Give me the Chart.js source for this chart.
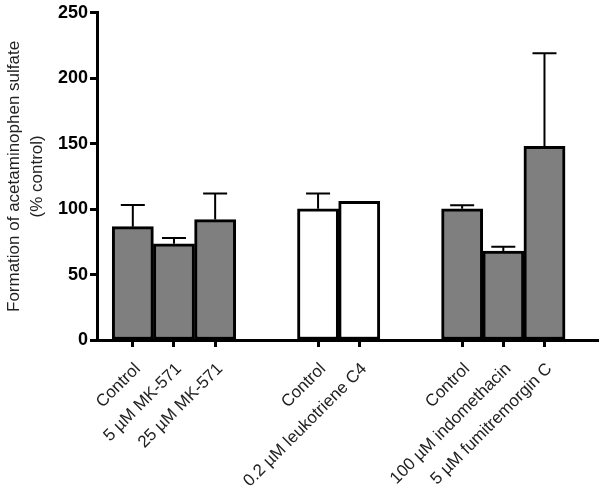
<!DOCTYPE html>
<html>
<head>
<meta charset="utf-8">
<script src="https://cdn.jsdelivr.net/npm/chart.js@4/dist/chart.umd.min.js"></script>
<style>
  html, body { margin: 0; padding: 0; background: #fff; }
  #wrap { width: 600px; height: 493px; }
</style>
</head>
<body>
<div id="wrap"><canvas id="mycanvas"></canvas></div>
<script>
// treatments, in the order they appear
var labels = ["Control", "5 µM MK-571", "25 µM MK-571",
              "Control", "0.2 µM leukotriene C4",
              "Control", "100 µM indomethacin", "5 µM fumitremorgin C"];
var groups = [0, 0, 0, 1, 1, 2, 2, 2];

// formation of acetaminophen sulfate, % control (mean and upper SD)
var means = [86.6, 73.5, 92, 100.2, 106, 100.3, 68, 148];
var errors = [16.5, 4.5, 20, 11.8, 0, 2.7, 3.2, 71];

var yTicks = [0, 50, 100, 150, 200, 250];

// each group is pushed right by a gap of 1.5 bar widths
var groupGap = 1.5;
var xPos = [];
for (var i = 0; i < labels.length; i++) {
    xPos.push(i + groups[i] * groupGap);
}

var fills = groups.map(function (g) { return g == 1 ? "#ffffff" : "#7f7f7f"; });

var errorBars = {
    id: "errorBars",
    afterDatasetsDraw: function (chart) {
        var ctx = chart.ctx;
        var yScale = chart.scales.y;
        var meta = chart.getDatasetMeta(0);
        ctx.save();
        ctx.strokeStyle = "#000";
        ctx.lineWidth = 2;
        meta.data.forEach(function (bar, i) {
            if (!errors[i]) return;
            var top = yScale.getPixelForValue(means[i] + errors[i]);
            var base = yScale.getPixelForValue(means[i]);
            ctx.beginPath();
            ctx.moveTo(bar.x, base);
            ctx.lineTo(bar.x, top);
            ctx.moveTo(bar.x - 12, top);
            ctx.lineTo(bar.x + 12, top);
            ctx.stroke();
        });
        ctx.restore();
    }
};

var ctx = document.getElementById("mycanvas");
var myChart = new Chart(ctx, {
    type: "bar",
    data: {
        datasets: [{
            data: xPos.map(function (x, i) { return { x: x, y: means[i] }; }),
            backgroundColor: fills,
            borderColor: "#000",
            borderWidth: 3,
            borderSkipped: false,
            barPercentage: 1,
            categoryPercentage: 1
        }]
    },
    options: {
        responsive: true,
        maintainAspectRatio: false,
        animation: false,
        layout: { padding: { top: 0, right: 2, left: 0, bottom: 0 } },
        plugins: {
            legend: { display: false },
            tooltip: { enabled: false }
        },
        scales: {
            x: {
                type: "linear",
                min: -0.87,
                max: 11.3,
                offset: false,
                afterBuildTicks: function (scale) {
                    scale.ticks = xPos.map(function (v) { return { value: v }; });
                },
                afterFit: function (scale) { scale.height = 153; },
                border: { display: true, color: "#000", width: 3 },
                grid: { display: true, offset: false, drawOnChartArea: false, drawTicks: true,
                        tickLength: 7, tickWidth: 3, tickColor: "#000" },
                ticks: {
                    autoSkip: false,
                    maxRotation: 45,
                    minRotation: 45,
                    padding: 12,
                    labelOffset: 5,
                    color: "#222",
                    font: { family: "'Liberation Sans', Arial, sans-serif", size: 17 },
                    callback: function (value, index) { return labels[index]; }
                }
            },
            y: {
                min: 0,
                max: 250,
                afterBuildTicks: function (scale) {
                    scale.ticks = yTicks.map(function (v) { return { value: v }; });
                },
                afterFit: function (scale) { scale.width = 97; },
                border: { display: true, color: "#000", width: 3 },
                grid: { display: true, drawOnChartArea: false, drawTicks: true,
                        tickLength: 7, tickWidth: 3, tickColor: "#000" },
                ticks: {
                    padding: 2,
                    color: "#000",
                    font: { family: "'Liberation Sans', Arial, sans-serif", size: 18, weight: "bold" }
                },
                title: {
                    display: true,
                    text: ["Formation of acetaminophen sulfate", "(% control)"],
                    color: "#222",
                    font: { family: "'Liberation Sans', Arial, sans-serif", size: 17, lineHeight: 1.35 },
                    padding: { top: 3, bottom: 0 }
                }
            }
        }
    },
    plugins: [errorBars]
});
</script>
</body>
</html>
